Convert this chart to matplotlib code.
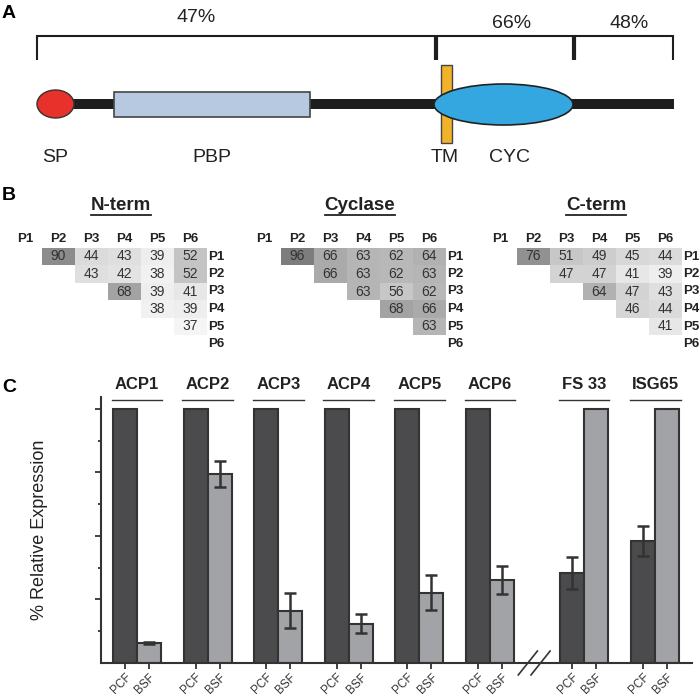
import matplotlib
matplotlib.use("Agg")
import matplotlib.pyplot as plt
from matplotlib.patches import Rectangle, Ellipse
import numpy as np

plt.rcParams["font.family"] = ["Liberation Sans", "DejaVu Sans"]

# ---- data -------------------------------------------------------------
domain_labels = ["SP", "PBP", "TM", "CYC"]
identity_labels = ["47%", "66%", "48%"]

pos_names = ["P1", "P2", "P3", "P4", "P5", "P6"]
nterm = [[90, 44, 43, 39, 52],
         [43, 42, 38, 52],
         [68, 39, 41],
         [38, 39],
         [37]]
cyclase = [[96, 66, 63, 62, 64],
           [66, 63, 62, 63],
           [63, 56, 62],
           [68, 66],
           [63]]
cterm = [[76, 51, 49, 45, 44],
         [47, 47, 41, 39],
         [64, 47, 43],
         [46, 44],
         [41]]

groups = ["ACP1", "ACP2", "ACP3", "ACP4", "ACP5", "ACP6", "FS 33", "ISG65"]
pcf = [100, 100, 100, 100, 100, 100, 35.4, 48.0]
bsf = [7.9, 74.4, 20.6, 15.4, 27.7, 32.7, 100, 100]
pcf_err = [0, 0, 0, 0, 0, 0, 6.3, 5.8]
bsf_err = [0.5, 5.0, 7.0, 3.7, 7.0, 5.5, 0, 0]

# ---- figure -----------------------------------------------------------
fig = plt.figure(figsize=(7, 6.98), dpi=100)
ov = fig.add_axes([0, 0, 1, 1], zorder=3)
ov.set_xlim(0, 700)
ov.set_ylim(698, 0)
ov.axis("off")
ov.patch.set_alpha(0)

for letter, (x, y) in zip("ABC", [(9, 13), (9, 195), (9, 388)]):
    ov.text(x, y, letter, fontsize=14, fontweight="bold", ha="center", va="center")

# Panel A: domain diagram
ink = "#1e1e1e"
ov.plot([37, 673], [36, 36], color=ink, lw=1.5)
for x, lw in [(37, 1.5), (436, 3), (574, 3), (673, 1.5)]:
    ov.plot([x, x], [36, 60], color=ink, lw=lw, solid_capstyle="butt")
for txt, x, y in zip(identity_labels, [196, 512, 629], [18, 23, 23]):
    ov.text(x, y, txt, fontsize=14, ha="center", va="center", color="#222")

ov.add_patch(Rectangle((52, 99), 622, 10, fc=ink, ec="none"))
ov.add_patch(Ellipse((55.5, 104), 37, 28, fc="#e8312b", ec="#333", lw=1))
ov.add_patch(Rectangle((114, 92), 196, 25, fc="#b7c9e1", ec="#444", lw=1.2))
ov.add_patch(Rectangle((441, 65), 11, 78, fc="#f2b32a", ec="#444", lw=1))
ov.add_patch(Ellipse((503.5, 104.5), 139, 41, fc="#35a7e0", ec="#222", lw=1.2))
for txt, x in zip(domain_labels, [55, 212, 445, 510]):
    ov.text(x, 158, txt, fontsize=14, ha="center", va="center", color="#222")

# Panel B: identity tables
cell_w, cell_h = 33, 17.5
row_y = [256.5, 274, 291.5, 309, 326.5, 344]


def cell_gray(v):
    lv = np.interp(v, [37, 40, 44, 52, 56, 63, 68, 76, 90, 96],
                   [0.96, 0.92, 0.86, 0.77, 0.78, 0.71, 0.64, 0.57, 0.55, 0.49])
    return (lv, lv, lv)


titles = []
for name, table, x0 in [("N-term", nterm, 25), ("Cyclase", cyclase, 264), ("C-term", cterm, 500)]:
    cols = [x0 + k * cell_w for k in range(6)]
    for k, p in enumerate(pos_names):
        ov.text(cols[k], 239, p, fontsize=9.5, fontweight="bold", ha="center", va="center", color="#222")
        ov.text(cols[5] + cell_w / 2 + 2, row_y[k], p, fontsize=9.5, fontweight="bold",
                ha="left", va="center", color="#222")
    for i, row in enumerate(table):
        for k, v in enumerate(row):
            j = i + 1 + k
            ov.add_patch(Rectangle((cols[j] - cell_w / 2, row_y[i] - cell_h / 2), cell_w, cell_h,
                                   fc=cell_gray(v), ec="none"))
            ov.text(cols[j], row_y[i], str(v), fontsize=10, ha="center", va="center", color="#333")
    t = ov.text((cols[1] + cols[5]) / 2 - 3, 206, name, fontsize=13.5, fontweight="bold",
                ha="center", va="center", color="#222")
    titles.append(t)

fig.canvas.draw()
inv = ov.transData.inverted()
for t in titles:
    bb = t.get_window_extent()
    (xa, _), (xb, _) = inv.transform([(bb.x0, bb.y0), (bb.x1, bb.y0)])
    ov.plot([xa, xb], [214.5, 214.5], color="#222", lw=1.3)

# Panel C: relative expression
ax = fig.add_axes([101 / 700, 35 / 698, (692 - 101) / 700, (663 - 397) / 698])
gpos = np.array([0, 1, 2, 3, 4, 5, 6.33, 7.34])
w = 0.34
dark, light, edge = "#4b4b4d", "#a2a3a6", "#333333"
ax.bar(gpos - w / 2, pcf, w, color=dark, edgecolor=edge, lw=1.5, zorder=2)
ax.bar(gpos + w / 2, bsf, w, color=light, edgecolor=edge, lw=1.5, zorder=2)
ekw = dict(fmt="none", ecolor=edge, elinewidth=1.8, capsize=4, capthick=1.8, zorder=3)
pm = np.array(pcf_err) > 0
bm = np.array(bsf_err) > 0
ax.errorbar((gpos - w / 2)[pm], np.array(pcf)[pm], yerr=np.array(pcf_err)[pm], **ekw)
ax.errorbar((gpos + w / 2)[bm], np.array(bsf)[bm], yerr=np.array(bsf_err)[bm], **ekw)

ax.set_xlim(-0.51, 7.86)
ax.set_ylim(0, 104.7)
for s in ["top", "right"]:
    ax.spines[s].set_visible(False)
for s in ["left", "bottom"]:
    ax.spines[s].set_color(edge)
    ax.spines[s].set_linewidth(1.5)
ax.set_yticks([25, 50, 75, 100])
ax.set_yticks([12.5, 37.5, 62.5, 87.5], minor=True)
ax.tick_params(axis="y", which="major", length=4, width=1.3, color=edge, labelleft=False)
ax.tick_params(axis="y", which="minor", length=2.5, width=1.3, color=edge)
xt = np.ravel(np.column_stack([gpos - w / 2, gpos + w / 2]))
ax.set_xticks(xt)
ax.set_xticklabels(["PCF", "BSF"] * len(groups), rotation=45, ha="right",
                   rotation_mode="anchor", fontsize=8.5, color="#333")
ax.tick_params(axis="x", length=4, width=1.3, color=edge, pad=2)
ax.set_ylabel("% Relative Expression", fontsize=13, color="#222", labelpad=32)

for g, name in zip(gpos, groups):
    ax.plot([g - 0.36, g + 0.36], [103.5, 103.5], color="#333", lw=1, clip_on=False)
    ax.text(g, 109.6, name, fontsize=12, fontweight="bold", ha="center", va="center",
            color="#222", clip_on=False)

# axis break marks
for dx in [0, 0.18]:
    ax.plot([5.4 + dx, 5.67 + dx], [-4.7, 4.7], color="#333", lw=1.2, clip_on=False)

fig.savefig("out.png", dpi=100)
